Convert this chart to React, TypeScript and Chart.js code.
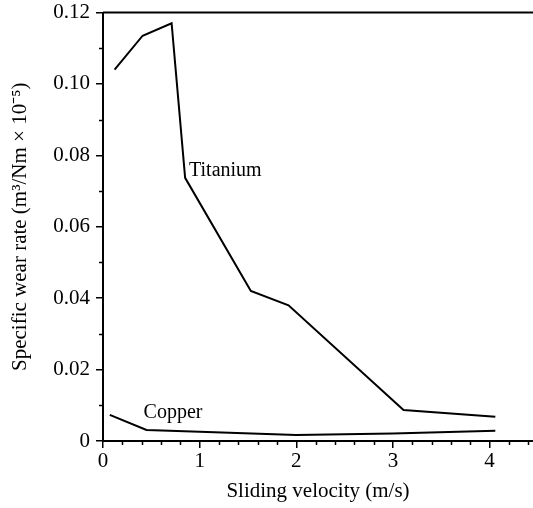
import React, { useEffect, useRef } from "react";
import { Chart, registerables } from "chart.js";

Chart.register(...registerables);

const titaniumX = [0.12, 0.41, 0.71, 0.85, 1.53, 1.92, 3.11, 4.06];
const titaniumY = [0.104, 0.1135, 0.117, 0.0737, 0.042, 0.038, 0.0087, 0.0068];
const copperX = [0.07, 0.45, 1.0, 2.0, 3.0, 4.06];
const copperY = [0.0073, 0.0031, 0.0026, 0.0017, 0.0021, 0.0029];

const xTicksMajor = [0, 1, 2, 3, 4];
const yTicksMajor = [0, 0.02, 0.04, 0.06, 0.08, 0.1, 0.12];

const labels = [
  { text: "Titanium", x: 0.89, y: 0.0756 },
  { text: "Copper", x: 0.42, y: 0.0079 },
];

const FONT = "'Liberation Serif', 'Times New Roman', serif";

const isMajor = (v: number, list: number[]) => list.some((m) => Math.abs(m - v) < 1e-6);

const extrasPlugin = {
  id: "extras",
  afterDraw(chart: any) {
    const ctx = chart.ctx;
    const { left, right, top } = chart.chartArea;
    const xs = chart.scales.x;
    const ys = chart.scales.y;
    ctx.save();
    ctx.strokeStyle = "#000";
    // top frame line
    ctx.lineWidth = 2;
    ctx.beginPath();
    ctx.moveTo(left, top);
    ctx.lineTo(right, top);
    ctx.stroke();
    // minor ticks
    ctx.lineWidth = 1.5;
    ctx.beginPath();
    for (let v = 0.2; v < 4.45; v += 0.2) {
      if (isMajor(v, xTicksMajor)) continue;
      const px = Math.round(xs.getPixelForValue(v)) + 0.5;
      ctx.moveTo(px, ys.bottom);
      ctx.lineTo(px, ys.bottom + 4);
    }
    for (let v = 0.01; v < 0.12; v += 0.02) {
      const py = Math.round(ys.getPixelForValue(v)) + 0.5;
      ctx.moveTo(ys.right, py);
      ctx.lineTo(ys.right - 4, py);
    }
    ctx.stroke();
    // labels
    ctx.fillStyle = "#000";
    ctx.font = `20px ${FONT}`;
    ctx.textAlign = "left";
    ctx.textBaseline = "middle";
    for (const l of labels) {
      ctx.fillText(l.text, xs.getPixelForValue(l.x), ys.getPixelForValue(l.y));
    }
    ctx.restore();
  },
};

export default function App() {
  const ref = useRef<HTMLCanvasElement | null>(null);
  useEffect(() => {
    if (!ref.current) return;
    const chart = new Chart(ref.current, {
      type: "line",
      data: {
        datasets: [
          {
            label: "Titanium",
            data: titaniumX.map((x, i) => ({ x, y: titaniumY[i] })),
            borderColor: "#000",
            borderWidth: 2,
            pointRadius: 0,
            tension: 0,
          },
          {
            label: "Copper",
            data: copperX.map((x, i) => ({ x, y: copperY[i] })),
            borderColor: "#000",
            borderWidth: 2,
            pointRadius: 0,
            tension: 0,
          },
        ],
      },
      options: {
        animation: false,
        responsive: false,
        maintainAspectRatio: false,
        layout: { padding: { top: 0, right: 0, left: 0, bottom: 0 } },
        plugins: { legend: { display: false }, tooltip: { enabled: false } },
        scales: {
          x: {
            type: "linear",
            min: 0,
            max: 4.45,
            afterFit: (s: any) => {
              s.height = 67;
              s.paddingRight = 0;
              s.paddingLeft = 0;
            },
            border: { display: true, color: "#000", width: 2 },
            grid: { display: true, drawOnChartArea: false, drawTicks: true, tickLength: 7, color: "#000", lineWidth: 1.5 },
            afterBuildTicks: (s: any) => {
              s.ticks = xTicksMajor.map((v) => ({ value: v }));
            },
            ticks: {
              color: "#000",
              font: { family: FONT, size: 21 },
              padding: 1,
              maxRotation: 0,
              callback: (v: any) => String(v),
            },
            title: {
              display: true,
              text: "Sliding velocity (m/s)",
              color: "#000",
              font: { family: FONT, size: 21 },
              padding: { top: 0, bottom: 4 },
            },
          },
          y: {
            type: "linear",
            min: 0,
            max: 0.12,
            afterFit: (s: any) => {
              s.width = 103;
              s.paddingTop = 12.5;
              s.paddingBottom = 0;
            },
            border: { display: true, color: "#000", width: 2 },
            grid: { display: true, drawOnChartArea: false, drawTicks: true, tickLength: 7, color: "#000", lineWidth: 1.5 },
            afterBuildTicks: (s: any) => {
              s.ticks = yTicksMajor.map((v) => ({ value: v }));
            },
            ticks: {
              color: "#000",
              font: { family: FONT, size: 21 },
              padding: 6,
              callback: (v: any) => (Number(v) === 0 ? "0" : Number(v).toFixed(2)),
            },
            title: {
              display: true,
              text: "Specific wear rate (m³/Nm × 10⁻⁵)",
              color: "#000",
              font: { family: FONT, size: 21 },
              padding: { top: 8, bottom: 0 },
            },
          },
        },
      },
      plugins: [extrasPlugin],
    });
    return () => chart.destroy();
  }, []);
  return (
    <div style={{ position: "fixed", left: 0, top: 0, width: 533, height: 508, background: "#fff" }}>
      <canvas ref={ref} width={533} height={508} style={{ width: 533, height: 508 }} />
    </div>
  );
}
